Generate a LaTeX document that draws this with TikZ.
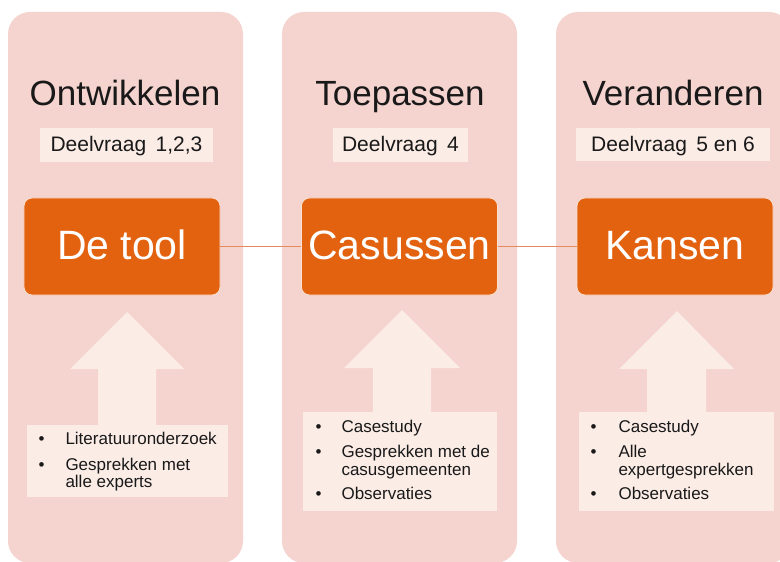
\documentclass[tikz,border=0pt]{standalone}
\usepackage{fontspec}
\setmainfont{Liberation Sans}
\definecolor{panel}{HTML}{F5D3CE}
\definecolor{orangebox}{HTML}{E36210}
\definecolor{lightbox}{HTML}{FBECE6}
\definecolor{conn}{HTML}{E58A5E}
\begin{document}
\begin{tikzpicture}[x=1bp,y=-1bp,
  panelbox/.style={fill=panel,draw=none,rounded corners=22bp},
  mainbox/.style={fill=orangebox,draw=white!80!orangebox,line width=0.8bp,rounded corners=8bp,minimum width=196bp,minimum height=97bp,inner sep=0pt},
  maintext/.style={text=white,font=\fontsize{41bp}{45bp}\selectfont,anchor=base},
  titletext/.style={font=\fontsize{35bp}{40bp}\selectfont,anchor=base,text=black!90},
  qbox/.style={fill=lightbox,draw=none},
  qtext/.style={font=\fontsize{21bp}{25bp}\selectfont,anchor=base,text=black!90},
  arrowshape/.style={fill=lightbox,draw=none},
  bul/.style={font=\fontsize{17bp}{18bp}\selectfont,anchor=base west,text=black!90},
  itemtext/.style={font=\fontsize{17bp}{18bp}\selectfont,anchor=base west,align=left,text=black!90},
  connector/.style={draw=conn,line width=1.5bp}]
\useasboundingbox (0,0) rectangle (780,562);
\fill[white] (0,0) rectangle (780,562);
% panels
\fill[panelbox] (8,12) rectangle (243,563);
\fill[panelbox] (282,12) rectangle (517,563);
\fill[panelbox] (556,12) rectangle (791,563);
% titles
\node[titletext] (ti1) at (125,106) {Ontwikkelen};
\node[titletext] (ti2) at (400,106) {Toepassen};
\node[titletext] (ti3) at (673,106) {Veranderen};
% deelvraag boxes
\fill[qbox] (40,128) rectangle (213,162);
\fill[qbox] (333,128) rectangle (468,162);
\fill[qbox] (576,128) rectangle (770,161);
\node[qtext] (q1) at (126.5,152) {Deelvraag\hspace{0.45em}1,2,3};
\node[qtext] (q2) at (400.5,152) {Deelvraag\hspace{0.45em}4};
\node[qtext] (q3) at (673,152) {Deelvraag\hspace{0.45em}5 en 6};
% arrows
\fill[arrowshape] (127,312) -- (184,369) -- (156,369) -- (156,430) -- (98,430) -- (98,369) -- (70,369) -- cycle;
\fill[arrowshape] (402,310) -- (460,368) -- (431,368) -- (431,415) -- (373,415) -- (373,368) -- (344,368) -- cycle;
\fill[arrowshape] (677,311) -- (734,369) -- (706,369) -- (706,415) -- (647,415) -- (647,369) -- (619,369) -- cycle;
% list boxes
\fill[qbox] (27,425) rectangle (228,497);
\fill[qbox] (303,412) rectangle (497,511);
\fill[qbox] (579,412) rectangle (774,511);
% orange boxes
\node[mainbox] (t1) at (122,246.5) {};
\node[mainbox] (t2) at (399.5,246.5) {};
\node[mainbox] (t3) at (675,246.5) {};
\node[maintext] (l1) at (122,260) {De tool};
\node[maintext] (l2) at (399.5,260) {Casussen};
\node[maintext] (l3) at (675,260) {Kansen};
% connectors
\draw[connector] (t1.east) -- (t2.west);
\draw[connector] (t2.east) -- (t3.west);
% list 1
\node[bul] (b11) at (35,444) {•};
\node[itemtext] (i11) at (62,444) {Literatuuronderzoek};
\node[bul] (b12) at (35,470) {•};
\node[itemtext] (i12) at (62,470) {Gesprekken met};
\node[itemtext] (i13) at (62,487.5) {alle experts};
% list 2
\node[bul] (b21) at (312,432) {•};
\node[itemtext] (i21) at (338,432) {Casestudy};
\node[bul] (b22) at (312,457) {•};
\node[itemtext] (i22) at (338,457) {Gesprekken met de};
\node[itemtext] (i23) at (338,475) {casusgemeenten};
\node[bul] (b23) at (312,499) {•};
\node[itemtext] (i24) at (338,499) {Observaties};
% list 3
\node[bul] (b31) at (587,432) {•};
\node[itemtext] (i31) at (615,432) {Casestudy};
\node[bul] (b32) at (587,457) {•};
\node[itemtext] (i32) at (615,457) {Alle};
\node[itemtext] (i33) at (615,475) {expertgesprekken};
\node[bul] (b33) at (587,499) {•};
\node[itemtext] (i34) at (615,499) {Observaties};
\end{tikzpicture}
\end{document}
